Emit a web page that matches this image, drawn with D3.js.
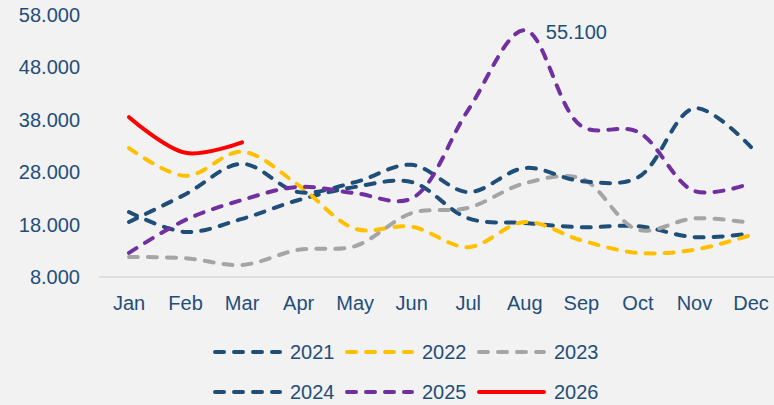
<!DOCTYPE html>
<html lang="en">
    <head>
       <meta charset="utf-8">
       <script src="https://d3js.org/d3.v7.min.js"></script>
       <style>
           body { margin: 0; background: #F2F2F2; }
           text { font-family: "Liberation Sans", Arial, sans-serif; }
       </style>
    </head>
    <body>

        <script>
            var width  = 774;
            var height = 405;

            // chart data
            var months = ["Jan","Feb","Mar","Apr","May","Jun","Jul","Aug","Sep","Oct","Nov","Dec"];
            var yTicks = [8000, 18000, 28000, 38000, 48000, 58000];

            var v2021 = [20400, 16600, 19100, 22700, 25200, 26100, 19200, 18300, 17500, 17700, 15600, 16300];
            var v2022 = [32600, 27300, 31900, 25500, 17200, 17600, 13700, 18500, 15000, 12600, 13200, 16000];
            var v2023 = [11800, 11600, 10300, 13200, 13900, 20200, 21200, 25900, 26800, 17000, 19200, 18300];
            var v2024 = [18500, 23800, 29600, 24200, 26100, 29400, 24200, 28800, 26300, 27000, 40200, 32800];
            var v2025 = [12600, 18900, 22700, 25200, 24000, 23000, 39900, 55100, 36800, 35700, 24400, 25900];
            var v2026 = [38500, 31700, 33700];

            var series = [
                { name: "2021", values: v2021, color: "#1F4E79", dashed: true },
                { name: "2022", values: v2022, color: "#FFC000", dashed: true },
                { name: "2023", values: v2023, color: "#A5A5A5", dashed: true },
                { name: "2024", values: v2024, color: "#1F4E79", dashed: true },
                { name: "2025", values: v2025, color: "#7030A0", dashed: true },
                { name: "2026", values: v2026, color: "#FF0000", dashed: false }
            ];

            var textColor = "#1F4E79";

            // setup the canvas
            var svg = d3.select("body")
                        .append("svg")
                        .attr("width", width)
                        .attr("height", height);

            svg.append("rect")
               .attr("width", width)
               .attr("height", height)
               .attr("fill", "#F2F2F2");

            var x = d3.scalePoint().domain(months).range([129, 751]);
            var y = d3.scaleLinear().domain([8000, 58000]).range([277, 15]);

            var fmt = function(d) { return d3.format(",")(d).replace(/,/g, "."); };

            // baseline
            svg.append("line")
               .attr("x1", 99).attr("x2", width)
               .attr("y1", y(8000)).attr("y2", y(8000))
               .attr("stroke", "#D9D9D9")
               .attr("stroke-width", 1.5);

            // y labels
            svg.selectAll(".ylab")
               .data(yTicks)
               .enter().append("text")
               .attr("class", "ylab")
               .attr("x", 80)
               .attr("y", function(d) { return y(d); })
               .attr("dy", "0.35em")
               .attr("text-anchor", "end")
               .attr("font-size", 20)
               .attr("fill", textColor)
               .text(fmt);

            // x labels
            svg.selectAll(".xlab")
               .data(months)
               .enter().append("text")
               .attr("class", "xlab")
               .attr("x", function(d) { return x(d); })
               .attr("y", 310)
               .attr("text-anchor", "middle")
               .attr("font-size", 20)
               .attr("fill", textColor)
               .text(function(d) { return d; });

            var line = d3.line()
                         .x(function(d, i) { return x(months[i]); })
                         .y(function(d) { return y(d); })
                         .curve(d3.curveCatmullRom.alpha(0.5));

            series.forEach(function(s) {
                svg.append("path")
                   .attr("d", line(s.values))
                   .attr("fill", "none")
                   .attr("stroke", s.color)
                   .attr("stroke-width", 4)
                   .attr("stroke-linecap", "round")
                   .attr("stroke-dasharray", s.dashed ? "9,10" : null);
            });

            // data label for the peak
            var peakIdx = v2025.indexOf(d3.max(v2025));
            svg.append("text")
               .attr("x", x(months[peakIdx]) + 21)
               .attr("y", y(v2025[peakIdx]) + 2)
               .attr("dy", "0.35em")
               .attr("font-size", 20)
               .attr("fill", textColor)
               .text(fmt(v2025[peakIdx]));

            // legend
            var legX = [213, 345, 477];
            var legY = [352, 392];
            series.forEach(function(s, i) {
                var lx = legX[i % 3];
                var ly = legY[Math.floor(i / 3)];
                svg.append("line")
                   .attr("x1", lx + 2).attr("x2", lx + 67)
                   .attr("y1", ly).attr("y2", ly)
                   .attr("stroke", s.color)
                   .attr("stroke-width", 4)
                   .attr("stroke-linecap", "round")
                   .attr("stroke-dasharray", s.dashed ? "9,10" : null);
                svg.append("text")
                   .attr("x", lx + 77)
                   .attr("y", ly)
                   .attr("dy", "0.35em")
                   .attr("font-size", 20)
                   .attr("fill", textColor)
                   .text(s.name);
            });
        </script>

    </body>
</html>
